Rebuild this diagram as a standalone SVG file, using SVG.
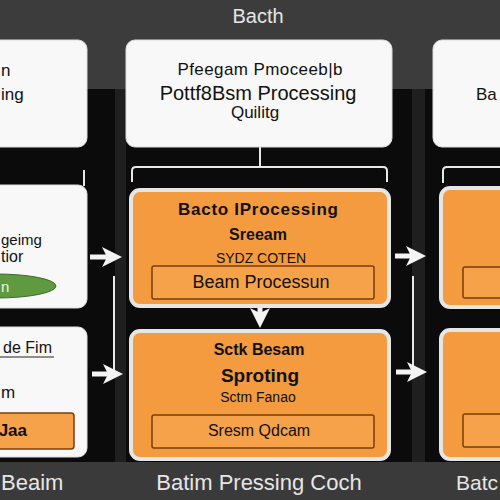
<svg xmlns="http://www.w3.org/2000/svg" width="500" height="500" viewBox="0 0 500 500">
<style>
.wb{fill:#f8f8f8;stroke:#dcdcdc;stroke-width:1}
.ob{fill:#f39b3e;stroke:#e6e6e6;stroke-width:4}
.ir{fill:#f5a24a;stroke:#7a3e0c;stroke-width:1.5}
.t{font-family:"Liberation Sans",Arial,sans-serif;fill:#111}
.b{font-weight:bold}
.lt{font-family:"Liberation Sans",Arial,sans-serif;fill:#e6e6e6}
.ln{stroke:#e8e8e8;stroke-width:2;fill:none}
.ar{stroke:#f4f4f4;stroke-width:5;fill:none}
</style>
<defs>
<marker id="ah" markerWidth="4" markerHeight="4" refX="2" refY="2" orient="auto" markerUnits="strokeWidth">
<path d="M0,0 L4,2 L0,4 L1,2 Z" fill="#f4f4f4"/>
</marker>
</defs>
<rect x="0" y="0" width="500" height="500" fill="#0b0b0b"/>
<rect x="0" y="0" width="500" height="89" fill="#3c3c3c"/>
<rect x="0" y="462" width="500" height="38" fill="#3a3a3a"/>
<rect x="115" y="89" width="11" height="373" fill="#1f1f1f"/>
<rect x="412" y="89" width="13" height="373" fill="#1f1f1f"/>
<text class="lt" x="258" y="23" font-size="20" text-anchor="middle">Bacth</text>

<g id="connectors">
<path class="ln" d="M260,147 V166 M132,182 V171 Q132,167 136,167 H383 Q387,167 387,171 V182"/>
<path class="ln" d="M84,170 V186"/>
<path class="ln" d="M443,183 V171 Q443,167 447,167 H500"/>
<path class="ln" d="M114,276 V370"/>
<path class="ln" d="M413,276 V368"/>
<path class="ar" d="M90,257 H112" marker-end="url(#ah)"/>
<path class="ar" d="M92,374 H113" marker-end="url(#ah)"/>
<path class="ar" d="M395,256 H416" marker-end="url(#ah)"/>
<path class="ar" d="M396,372 H417" marker-end="url(#ah)"/>
<path class="ar" d="M260,304 V318" stroke-width="3" marker-end="url(#ah)"/>
</g>

<g id="top-left">
<rect class="wb" x="-20" y="40" width="107" height="107" rx="9"/>
<text class="t" x="1" y="76" font-size="17">n</text>
<text class="t" x="1" y="100" font-size="17">ing</text>
</g>
<g id="top-center">
<rect class="wb" x="126" y="40" width="266" height="107" rx="9"/>
<text class="t" x="260" y="75" font-size="17" text-anchor="middle" textLength="165">Pfeegam Pmoceeb|b</text>
<text class="t" x="258" y="100" font-size="20" text-anchor="middle">Pottf8Bsm Processing</text>
<text class="t" x="255" y="118" font-size="17" text-anchor="middle">Quilitg</text>
</g>
<g id="top-right">
<rect class="wb" x="433" y="40" width="90" height="107" rx="9"/>
<text class="t" x="476" y="100" font-size="17">Ba</text>
</g>

<g id="mid-left">
<rect class="wb" x="-20" y="185" width="107" height="123" rx="9"/>
<text class="t" x="1" y="245" font-size="15">geimg</text>
<text class="t" x="1" y="262" font-size="16">tior</text>
<ellipse cx="-4" cy="286" rx="60" ry="12" fill="#5f9940" stroke="#3e6a28" stroke-width="1"/>
<text x="1" y="292" font-size="15" font-family="Liberation Sans,Arial,sans-serif" fill="#eef5e6">n</text>
</g>
<g id="mid-center">
<rect class="ob" x="131" y="190" width="258" height="116" rx="9"/>
<text class="t b" x="258" y="215" font-size="17" text-anchor="middle" textLength="160">Bacto IProcessing</text>
<text class="t b" x="258" y="240" font-size="16" text-anchor="middle">Sreeam</text>
<text class="t" x="261" y="263" font-size="14" text-anchor="middle" fill="#333">SYDZ COTEN</text>
<rect class="ir" x="152" y="266" width="222" height="33" rx="2"/>
<text class="t" x="261" y="288" font-size="18" text-anchor="middle">Beam Processun</text>
</g>
<g id="mid-right">
<rect class="ob" x="441" y="188" width="80" height="119" rx="9"/>
<rect class="ir" x="463" y="267" width="50" height="31" rx="2"/>
</g>

<g id="bot-left">
<rect class="wb" x="-20" y="327" width="107" height="130" rx="9"/>
<text class="t" x="52" y="353" font-size="16" text-anchor="end">de Fim</text>
<line x1="0" y1="357" x2="54" y2="357" stroke="#222" stroke-width="1.2"/>
<text class="t" x="1" y="398" font-size="17">m</text>
<rect class="ir" x="-10" y="413" width="84" height="36" rx="3"/>
<text class="t b" x="27" y="436" font-size="17" text-anchor="end">Jaa</text>
</g>
<g id="bot-center">
<rect class="ob" x="131" y="331" width="258" height="128" rx="9"/>
<text class="t b" x="259" y="355" font-size="16" text-anchor="middle">Sctk Besam</text>
<text class="t b" x="260" y="382" font-size="19" text-anchor="middle">Sproting</text>
<text class="t" x="258" y="402" font-size="14" text-anchor="middle" fill="#333">Sctm Fanao</text>
<rect class="ir" x="152" y="415" width="222" height="33" rx="2"/>
<text class="t" x="259" y="436" font-size="16" text-anchor="middle">Sresm Qdcam</text>
</g>
<g id="bot-right">
<rect class="ob" x="441" y="330" width="80" height="129" rx="9"/>
<rect class="ir" x="463" y="414" width="50" height="33" rx="2"/>
</g>

<text class="lt" x="1" y="490" font-size="22">Beaim</text>
<text class="lt" x="259" y="490" font-size="22" text-anchor="middle">Batim Pressing Coch</text>
<text class="lt" x="456" y="490" font-size="21">Batc</text>
</svg>
